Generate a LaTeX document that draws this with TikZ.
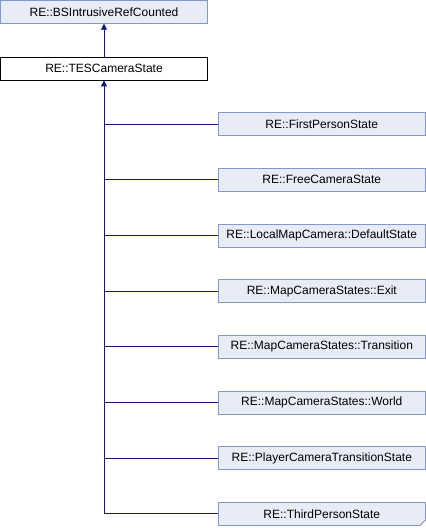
\documentclass[tikz,border=0pt]{standalone}
\usepackage{fontspec}
\setmainfont{Liberation Sans}
\usetikzlibrary{arrows.meta,calc}
\definecolor{boxfill}{HTML}{E8ECF6}
\definecolor{boxline}{HTML}{8497C8}
\definecolor{edge}{HTML}{191970}
\begin{document}
\begin{tikzpicture}[x=1pt,y=-1pt,
  cls/.style={draw=boxline,fill=boxfill,line width=0.8pt,minimum width=207pt,minimum height=23pt,inner sep=0pt,font=\fontsize{12}{14}\selectfont},
  cur/.style={cls,draw=black,fill=white},
  edg/.style={draw=edge,line width=0.9pt},
  tip/.style={-{Triangle[length=6pt,width=6pt]}}]
\useasboundingbox (0,0) rectangle (426,528);
\node[cls] (base) at (104,11.8) {RE::BSIntrusiveRefCounted};
\node[cur] (tes) at (104,68.5) {RE::TESCameraState};
\foreach \n/\t [count=\i from 0] in {c0/RE::FirstPersonState,c1/RE::FreeCameraState,c2/RE::LocalMapCamera::DefaultState,c3/RE::MapCameraStates::Exit,c4/RE::MapCameraStates::Transition,c5/RE::MapCameraStates::World,c6/RE::PlayerCameraTransitionState,c7/RE::ThirdPersonState}{
  \node[cls] (\n) at (321.8,{124+\i*55.7}) {\t};
}
\coordinate (trunkend) at (tes.south |- c7.west);
\draw[edg,tip] (tes.north) -- (base.south);
\draw[edg,tip] (trunkend) -- (tes.south);
\foreach \n in {c0,c1,c2,c3,c4,c5,c6,c7}{
  \draw[edg] (\n.west) -- (\n.west -| tes.south);
}
\fill[white] ($(c7.south east)+(0.4,0.4)$) -- ++(-7,0) -- ++(7,-7) -- cycle;
\draw[boxline!70!gray,line width=0.8pt] ($(c7.south east)+(-6,0)$) -- ($(c7.south east)+(0,-6)$);
\end{tikzpicture}
\end{document}
